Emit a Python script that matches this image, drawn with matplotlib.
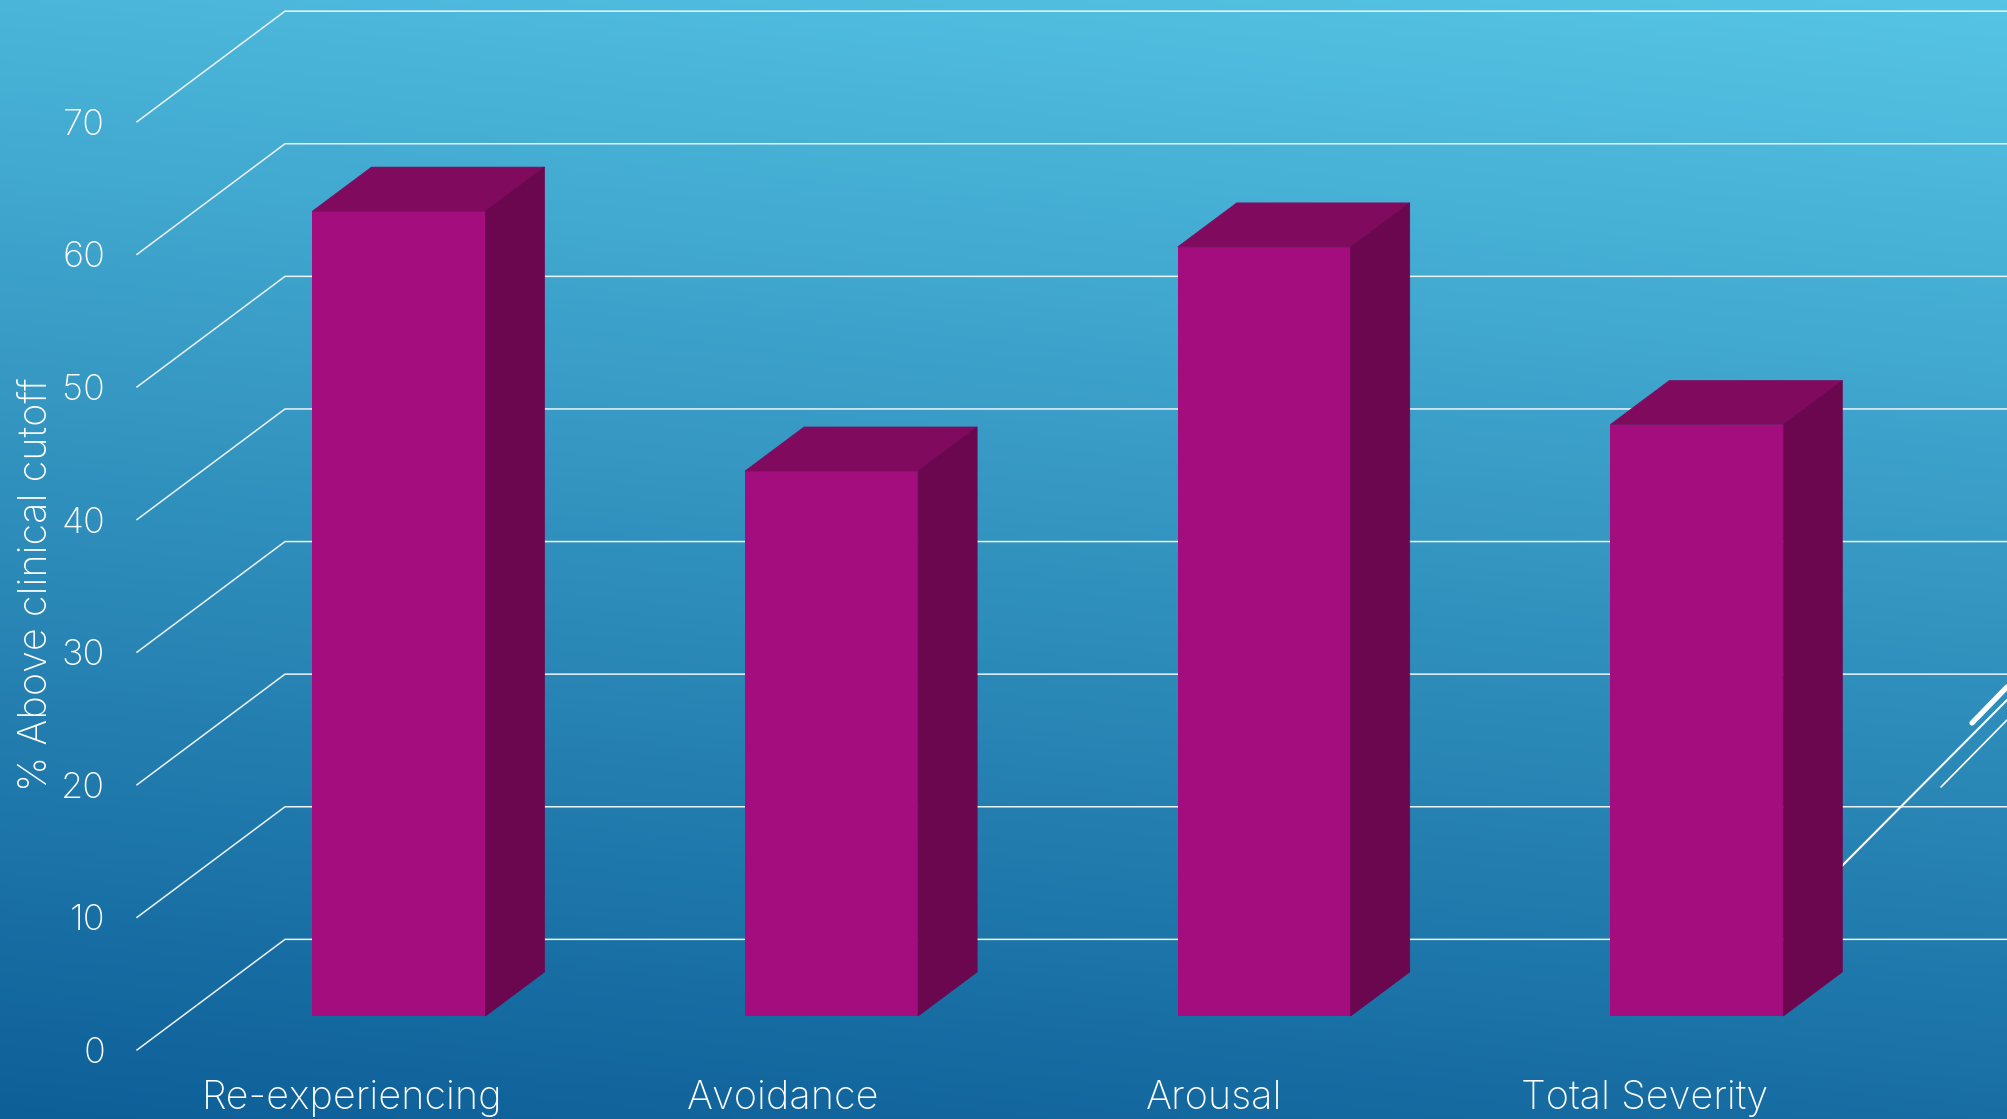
import numpy as np
import matplotlib.pyplot as plt

categories = ['Re-experiencing', 'Avoidance', 'Arousal', 'Total Severity']
values = [60.7, 41.1, 58.0, 44.6]
y_ticks = [0, 10, 20, 30, 40, 50, 60, 70]
y_title = '% Above clinical cutoff'

W, H = 2007, 1119
plt.rcParams['font.family'] = ['Inter', 'DejaVu Sans']
plt.rcParams['font.weight'] = 'light'

fig = plt.figure(figsize=(W / 100, H / 100), dpi=100)
ax = fig.add_axes([0, 0, 1, 1])

# value axis: 13.26 px per percent, zero at y=1016
# category axis: 432.6 px per category, first bar centred at x=399
px_y, px_x = 13.26, 432.6
ax.axis('off')

# background gradient, lighter to the top right
xx, yy = np.meshgrid(np.linspace(0, 1, 400), np.linspace(0, 1, 300))
t = (yy * 0.85 + (1 - xx) * 0.15)[..., None]
top = np.array([0x56, 0xC5, 0xE5]) / 255
bottom = np.array([0x0D, 0x5F, 0x98]) / 255
bg = top + (bottom - top) * t
ax.imshow(bg, extent=(0, 1, 0, 1), transform=ax.transAxes, aspect='auto', zorder=0)
ax.set_xlim(-399 / px_x, (W - 399) / px_x)
ax.set_ylim((1016 - H) / px_y, 1016 / px_y)

# back wall and left wall of the 3d frame
wall_back_x, wall_back_dy = -0.2635, 5.78
wall_front_x, wall_front_dy = -0.6056, -2.56
right_end = ax.get_xlim()[1]
for v in y_ticks:
    ax.plot([wall_front_x, wall_back_x, right_end],
            [v + wall_front_dy, v + wall_back_dy, v + wall_back_dy],
            color='#ecf3f6', lw=1.1, zorder=1, solid_joinstyle='miter')
    ax.text(wall_front_x - 0.074, v + wall_front_dy, str(v), color='white',
            fontsize=26, ha='right', va='center_baseline', zorder=5)

# slide decoration on the right
deco = [((1815, 893), (2007, 700), 1.5), ((1941, 787), (2007, 720), 1.2), ((1972, 723), (2007, 687), 3.8)]
for p0, p1, lw in deco:
    ax.plot([p0[0] / W, p1[0] / W], [1 - p0[1] / H, 1 - p1[1] / H], color='white', lw=lw,
            transform=ax.transAxes, solid_capstyle='round', zorder=1.5)

# bars with a fake depth
bar_w = 0.4
depth_x, depth_y = 0.1364, 3.32
x = np.arange(len(categories))
ax.bar(x, values, width=bar_w, color='#a30d7d', zorder=3)
for xi, v in zip(x, values):
    l, r = xi - bar_w / 2, xi + bar_w / 2
    ax.fill([l, r, r + depth_x, l + depth_x], [v, v, v + depth_y, v + depth_y],
            color='#7f0a5e', lw=0.5, zorder=3)
    ax.fill([r, r + depth_x, r + depth_x, r], [0, depth_y, v + depth_y, v],
            color='#6a074f', lw=0.5, zorder=3)

for xi, name in zip(x, categories):
    ax.text(xi * 0.9956 - 0.108, -6.2, name, color='white', fontsize=28.5,
            ha='center', va='center', zorder=5)

ax.text(36 / W, 1 - 584 / H, y_title, color='white', fontsize=28.5, rotation=90,
        ha='center', va='center', transform=ax.transAxes, zorder=5)

fig.savefig('out.png', dpi=100)
